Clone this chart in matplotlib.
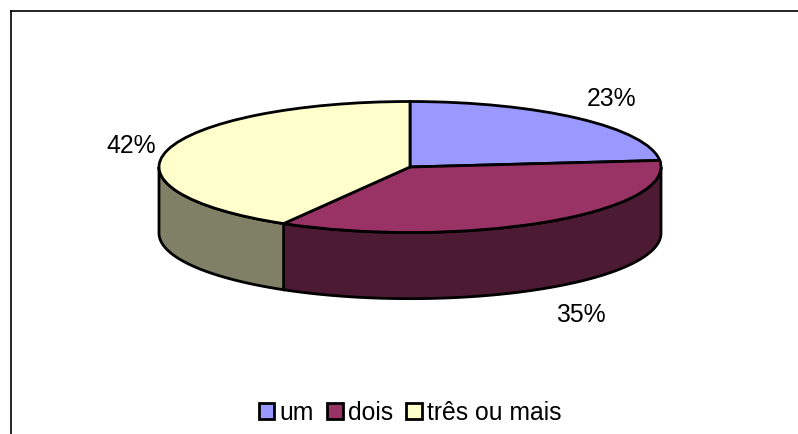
import numpy as np
import matplotlib
matplotlib.use('Agg')
import matplotlib.pyplot as plt
from matplotlib.lines import Line2D

categories = ['um', 'dois', 'três ou mais']
values = [23.4, 35.0, 41.6]
top_colors = ['#9999FF', '#993366', '#FFFFCC']
side_colors = ['#4D4D80', '#4D1A33', '#808066']
labels = ['23%', '35%', '42%']

W, H = 798, 435
rx, ry = 251.0, 65.5   # ellipse radii, pixels
cx, cy = 410.0, 168.0  # centre, pixels from top
depth = 1.01           # height of the wall, in y units
FS = 17.8
LW = 2.0

plt.rcParams['font.family'] = ['Liberation Sans', 'DejaVu Sans']
fig = plt.figure(figsize=(W / 100, H / 100), dpi=100)

# axes mapped so that the unit circle of pie() comes out as the flat ellipse
ax = fig.add_axes([(cx - 1.25 * rx) / W, 1 - (cy + 3 * ry) / H, 2.5 * rx / W, 4.5 * ry / H])

wedges, _ = ax.pie(values, colors=top_colors, startangle=90, counterclock=False, radius=1,
                   wedgeprops={'edgecolor': 'black', 'linewidth': LW, 'zorder': 3})
ax.set_aspect('auto')
ax.set_xlim(-1.25, 1.25)
ax.set_ylim(-3, 1.5)

# side walls, only the front half is visible
edges = 90 - np.cumsum([0] + values) * 3.6
for i in range(len(values)):
    a1, a2 = edges[i], edges[i + 1]
    a1 = a1 if a1 <= 0 else 0
    a1, a2 = max(a1, -180), max(a2, -180)
    if a1 <= a2:
        continue
    t = np.radians(np.linspace(a1, a2, 100))
    x = np.concatenate([np.cos(t), np.cos(t[::-1])])
    y = np.concatenate([np.sin(t), np.sin(t[::-1]) - depth])
    ax.fill(x, y, facecolor=side_colors[i], edgecolor='black', linewidth=LW, zorder=2)

# value labels
ax.text(0.805, 1.06, labels[0], ha='center', va='center', fontsize=FS, color='black')
ax.text(0.68, -2.25, labels[1], ha='center', va='center', fontsize=FS, color='black')
ax.text(-1.11, 0.33, labels[2], ha='center', va='center', fontsize=FS, color='black')

handles = [plt.Rectangle((0, 0), 1, 1, facecolor=c, edgecolor='black', linewidth=LW) for c in top_colors]
fig.legend(handles, categories, loc='center', bbox_to_anchor=(410 / W, 1 - 413.5 / H), ncols=3,
           frameon=False, fontsize=FS, handlelength=0.62, handleheight=0.62,
           handletextpad=0.2, columnspacing=0.55, borderpad=0)

# outer chart frame, cut by the picture on the right and at the bottom
fig.add_artist(Line2D([11 / W, 11 / W], [0, 1 - 11.5 / H], color='black', linewidth=1.2))
fig.add_artist(Line2D([11 / W, 1], [1 - 11.5 / H, 1 - 11.5 / H], color='black', linewidth=1.2))

fig.savefig('out.png', dpi=100)
